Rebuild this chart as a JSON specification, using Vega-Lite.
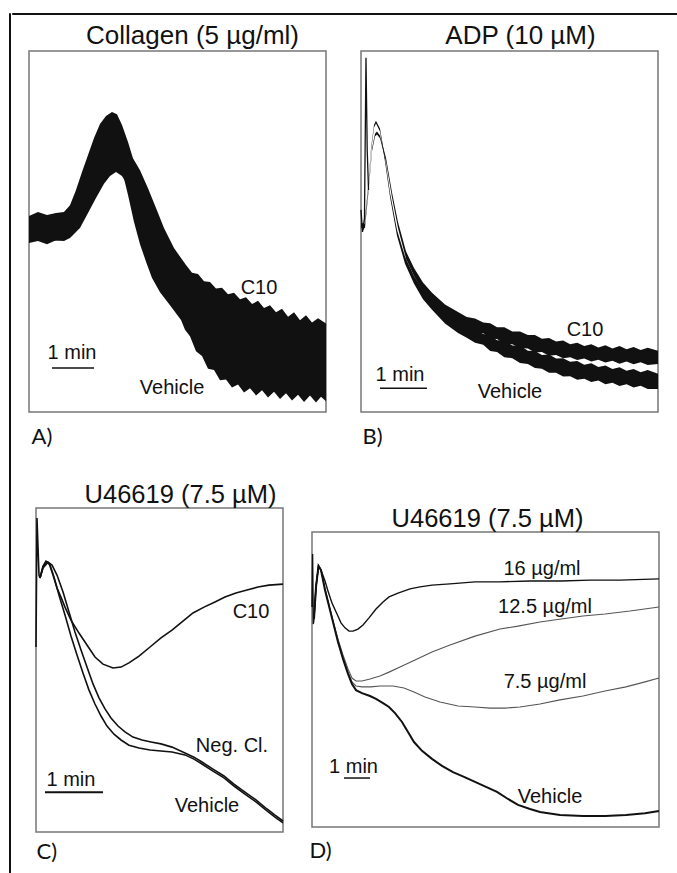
{
  "$schema": "https://vega.github.io/schema/vega-lite/v6.json",
  "padding": {"left": 8, "top": 12, "right": 0, "bottom": 0},
  "background": "white",
  "config": {
    "view": {"stroke": null},
    "title": {"font": "Liberation Sans", "fontSize": 26, "fontWeight": "normal", "color": "#111", "baseline": "alphabetic", "anchor": "middle", "frame": "group"},
    "axis": {"domain": false, "ticks": false, "labels": false, "grid": false, "titleFont": "Lato", "titleFontSize": 22, "titleFontWeight": "normal", "titleColor": "#111", "titleAlign": "left", "titleBaseline": "alphabetic"},
    "text": {"font": "Liberation Sans", "fontSize": 20, "color": "#111", "align": "center", "baseline": "middle"}
  },
  "datasets": {
    "bands": [
      {"p":"A","s":"Vehicle","t":0,"hi":54.3,"lo":46.8},{"p":"A","s":"Vehicle","t":0.214,"hi":55.4,"lo":47.4},{"p":"A","s":"Vehicle","t":0.429,"hi":54.6,"lo":46.5},{"p":"A","s":"Vehicle","t":0.643,"hi":55.1,"lo":47.6},{"p":"A","s":"Vehicle","t":0.833,"hi":55.4,"lo":47.4},{"p":"A","s":"Vehicle","t":0.976,"hi":57.3,"lo":48.2},{"p":"A","s":"Vehicle","t":1.119,"hi":61.5,"lo":49.9},{"p":"A","s":"Vehicle","t":1.262,"hi":66.5,"lo":52.6},{"p":"A","s":"Vehicle","t":1.405,"hi":71.2,"lo":56.5},{"p":"A","s":"Vehicle","t":1.548,"hi":75.9,"lo":60.9},{"p":"A","s":"Vehicle","t":1.69,"hi":79.8,"lo":65.4},{"p":"A","s":"Vehicle","t":1.833,"hi":82.0,"lo":69.8},{"p":"A","s":"Vehicle","t":1.976,"hi":83.1,"lo":72.0},{"p":"A","s":"Vehicle","t":2.095,"hi":82.5,"lo":72.0},{"p":"A","s":"Vehicle","t":2.214,"hi":79.5,"lo":67.0},{"p":"A","s":"Vehicle","t":2.357,"hi":74.8,"lo":60.1},{"p":"A","s":"Vehicle","t":2.5,"hi":69.3,"lo":52.6},{"p":"A","s":"Vehicle","t":2.643,"hi":63.7,"lo":46.5},{"p":"A","s":"Vehicle","t":2.786,"hi":58.2,"lo":41.6},{"p":"A","s":"Vehicle","t":2.929,"hi":52.6,"lo":37.1},{"p":"A","s":"Vehicle","t":3.119,"hi":46.3,"lo":33.2},{"p":"A","s":"Vehicle","t":3.357,"hi":39.9,"lo":29.6},{"p":"A","s":"Vehicle","t":3.619,"hi":34.3,"lo":25.5},{"p":"A","s":"Vehicle","t":3.714,"hi":35.0,"lo":22.8},{"p":"A","s":"Vehicle","t":3.833,"hi":33.1,"lo":21.0},{"p":"A","s":"Vehicle","t":3.976,"hi":31.7,"lo":16.8},{"p":"A","s":"Vehicle","t":4.119,"hi":29.5,"lo":15.5},{"p":"A","s":"Vehicle","t":4.262,"hi":29.0,"lo":12.0},{"p":"A","s":"Vehicle","t":4.405,"hi":26.7,"lo":11.6},{"p":"A","s":"Vehicle","t":4.548,"hi":26.5,"lo":8.8},{"p":"A","s":"Vehicle","t":4.69,"hi":24.5,"lo":9.0},{"p":"A","s":"Vehicle","t":4.833,"hi":24.8,"lo":6.8},{"p":"A","s":"Vehicle","t":4.976,"hi":23.1,"lo":7.6},{"p":"A","s":"Vehicle","t":5.119,"hi":23.7,"lo":5.4},{"p":"A","s":"Vehicle","t":5.262,"hi":22.0,"lo":6.6},{"p":"A","s":"Vehicle","t":5.405,"hi":22.5,"lo":4.6},{"p":"A","s":"Vehicle","t":5.548,"hi":20.9,"lo":6.0},{"p":"A","s":"Vehicle","t":5.69,"hi":21.4,"lo":4.0},{"p":"A","s":"Vehicle","t":5.833,"hi":19.4,"lo":5.6},{"p":"A","s":"Vehicle","t":5.976,"hi":19.6,"lo":3.6},{"p":"A","s":"Vehicle","t":6.119,"hi":18.0,"lo":5.2},{"p":"A","s":"Vehicle","t":6.262,"hi":19.2,"lo":3.2},{"p":"A","s":"Vehicle","t":6.405,"hi":17.6,"lo":4.8},{"p":"A","s":"Vehicle","t":6.548,"hi":19.0,"lo":2.8},{"p":"A","s":"Vehicle","t":6.69,"hi":17.4,"lo":4.6},{"p":"A","s":"Vehicle","t":6.833,"hi":18.8,"lo":2.6},{"p":"A","s":"Vehicle","t":6.952,"hi":17.5,"lo":4.2},{"p":"A","s":"Vehicle","t":7.071,"hi":18.5,"lo":3.0},
      {"p":"A","s":"C10","t":0,"hi":53.5,"lo":47.6},{"p":"A","s":"C10","t":0.452,"hi":54.0,"lo":47.4},{"p":"A","s":"C10","t":0.833,"hi":54.0,"lo":47.6},{"p":"A","s":"C10","t":1.024,"hi":57.1,"lo":48.8},{"p":"A","s":"C10","t":1.214,"hi":61.5,"lo":51.0},{"p":"A","s":"C10","t":1.405,"hi":66.2,"lo":55.1},{"p":"A","s":"C10","t":1.595,"hi":70.1,"lo":59.3},{"p":"A","s":"C10","t":1.786,"hi":72.9,"lo":63.2},{"p":"A","s":"C10","t":1.929,"hi":74.2,"lo":65.4},{"p":"A","s":"C10","t":2.071,"hi":74.8,"lo":66.5},{"p":"A","s":"C10","t":2.214,"hi":73.7,"lo":65.4},{"p":"A","s":"C10","t":2.357,"hi":72.0,"lo":62.6},{"p":"A","s":"C10","t":2.5,"hi":69.8,"lo":58.7},{"p":"A","s":"C10","t":2.643,"hi":67.0,"lo":54.6},{"p":"A","s":"C10","t":2.833,"hi":62.0,"lo":49.0},{"p":"A","s":"C10","t":3.024,"hi":56.5,"lo":44.3},{"p":"A","s":"C10","t":3.214,"hi":51.0,"lo":39.9},{"p":"A","s":"C10","t":3.452,"hi":45.4,"lo":35.2},{"p":"A","s":"C10","t":3.738,"hi":40.7,"lo":31.0},{"p":"A","s":"C10","t":3.881,"hi":38.6,"lo":29.8},{"p":"A","s":"C10","t":4.024,"hi":38.2,"lo":27.6},{"p":"A","s":"C10","t":4.167,"hi":36.2,"lo":27.5},{"p":"A","s":"C10","t":4.31,"hi":36.0,"lo":25.2},{"p":"A","s":"C10","t":4.452,"hi":34.2,"lo":25.1},{"p":"A","s":"C10","t":4.595,"hi":34.4,"lo":23.0},{"p":"A","s":"C10","t":4.738,"hi":32.6,"lo":23.0},{"p":"A","s":"C10","t":4.881,"hi":33.0,"lo":21.0},{"p":"A","s":"C10","t":5.024,"hi":31.2,"lo":21.2},{"p":"A","s":"C10","t":5.167,"hi":31.8,"lo":19.0},{"p":"A","s":"C10","t":5.31,"hi":29.9,"lo":19.5},{"p":"A","s":"C10","t":5.452,"hi":30.8,"lo":17.3},{"p":"A","s":"C10","t":5.595,"hi":28.8,"lo":18.0},{"p":"A","s":"C10","t":5.738,"hi":29.6,"lo":15.8},{"p":"A","s":"C10","t":5.881,"hi":27.6,"lo":16.6},{"p":"A","s":"C10","t":6.024,"hi":28.6,"lo":14.5},{"p":"A","s":"C10","t":6.167,"hi":26.4,"lo":15.3},{"p":"A","s":"C10","t":6.31,"hi":27.6,"lo":13.0},{"p":"A","s":"C10","t":6.452,"hi":25.4,"lo":14.2},{"p":"A","s":"C10","t":6.595,"hi":26.8,"lo":12.0},{"p":"A","s":"C10","t":6.738,"hi":24.8,"lo":13.2},{"p":"A","s":"C10","t":6.881,"hi":26.0,"lo":11.0},{"p":"A","s":"C10","t":7.071,"hi":24.5,"lo":11.6},
      {"p":"B","s":"Vehicle","t":0,"hi":52.4,"lo":51.2},{"p":"B","s":"Vehicle","t":0.064,"hi":51.5,"lo":50.4},{"p":"B","s":"Vehicle","t":0.149,"hi":61.9,"lo":61.1},{"p":"B","s":"Vehicle","t":0.213,"hi":73.0,"lo":72.2},{"p":"B","s":"Vehicle","t":0.277,"hi":79.6,"lo":78.8},{"p":"B","s":"Vehicle","t":0.319,"hi":80.7,"lo":79.9},{"p":"B","s":"Vehicle","t":0.404,"hi":78.5,"lo":77.7},{"p":"B","s":"Vehicle","t":0.511,"hi":70.4,"lo":69.3},{"p":"B","s":"Vehicle","t":0.617,"hi":60.7,"lo":59.6},{"p":"B","s":"Vehicle","t":0.766,"hi":50.4,"lo":48.8},{"p":"B","s":"Vehicle","t":0.936,"hi":43.1,"lo":41.1},{"p":"B","s":"Vehicle","t":1.128,"hi":37.7,"lo":35.5},{"p":"B","s":"Vehicle","t":1.319,"hi":33.7,"lo":31.2},{"p":"B","s":"Vehicle","t":1.511,"hi":31.0,"lo":28.3},{"p":"B","s":"Vehicle","t":1.787,"hi":27.6,"lo":24.5},{"p":"B","s":"Vehicle","t":2.064,"hi":25.2,"lo":21.9},{"p":"B","s":"Vehicle","t":2.25,"hi":23.8,"lo":20.6},{"p":"B","s":"Vehicle","t":2.426,"hi":23.0,"lo":19.2},{"p":"B","s":"Vehicle","t":2.6,"hi":21.6,"lo":18.6},{"p":"B","s":"Vehicle","t":2.75,"hi":21.2,"lo":16.9},{"p":"B","s":"Vehicle","t":2.894,"hi":19.9,"lo":16.6},{"p":"B","s":"Vehicle","t":3.05,"hi":19.8,"lo":15.2},{"p":"B","s":"Vehicle","t":3.22,"hi":18.4,"lo":14.9},{"p":"B","s":"Vehicle","t":3.383,"hi":18.4,"lo":13.6},{"p":"B","s":"Vehicle","t":3.55,"hi":17.0,"lo":13.3},{"p":"B","s":"Vehicle","t":3.7,"hi":16.9,"lo":12.2},{"p":"B","s":"Vehicle","t":3.85,"hi":15.8,"lo":12.0},{"p":"B","s":"Vehicle","t":4.0,"hi":15.9,"lo":10.9},{"p":"B","s":"Vehicle","t":4.15,"hi":14.8,"lo":10.9},{"p":"B","s":"Vehicle","t":4.3,"hi":14.9,"lo":9.8},{"p":"B","s":"Vehicle","t":4.45,"hi":13.9,"lo":9.9},{"p":"B","s":"Vehicle","t":4.6,"hi":14.1,"lo":8.9},{"p":"B","s":"Vehicle","t":4.75,"hi":13.1,"lo":9.2},{"p":"B","s":"Vehicle","t":4.9,"hi":13.5,"lo":8.3},{"p":"B","s":"Vehicle","t":5.05,"hi":12.5,"lo":8.7},{"p":"B","s":"Vehicle","t":5.2,"hi":12.9,"lo":7.7},{"p":"B","s":"Vehicle","t":5.35,"hi":11.9,"lo":8.1},{"p":"B","s":"Vehicle","t":5.5,"hi":12.4,"lo":7.2},{"p":"B","s":"Vehicle","t":5.65,"hi":11.4,"lo":7.7},{"p":"B","s":"Vehicle","t":5.8,"hi":11.9,"lo":6.8},{"p":"B","s":"Vehicle","t":5.95,"hi":11.0,"lo":7.3},{"p":"B","s":"Vehicle","t":6.1,"hi":11.6,"lo":6.4},{"p":"B","s":"Vehicle","t":6.319,"hi":10.6,"lo":6.4},
      {"p":"B","s":"C10","t":0,"hi":52.4,"lo":51.2},{"p":"B","s":"C10","t":0.085,"hi":52.1,"lo":51.0},{"p":"B","s":"C10","t":0.17,"hi":63.3,"lo":62.5},{"p":"B","s":"C10","t":0.234,"hi":73.0,"lo":72.2},{"p":"B","s":"C10","t":0.298,"hi":77.1,"lo":76.3},{"p":"B","s":"C10","t":0.34,"hi":77.7,"lo":76.9},{"p":"B","s":"C10","t":0.404,"hi":76.6,"lo":75.8},{"p":"B","s":"C10","t":0.532,"hi":70.4,"lo":69.3},{"p":"B","s":"C10","t":0.66,"hi":60.8,"lo":59.4},{"p":"B","s":"C10","t":0.787,"hi":52.6,"lo":51.0},{"p":"B","s":"C10","t":0.957,"hi":44.5,"lo":42.5},{"p":"B","s":"C10","t":1.128,"hi":39.9,"lo":37.7},{"p":"B","s":"C10","t":1.319,"hi":35.9,"lo":33.4},{"p":"B","s":"C10","t":1.511,"hi":33.0,"lo":30.2},{"p":"B","s":"C10","t":1.787,"hi":29.8,"lo":26.7},{"p":"B","s":"C10","t":2.064,"hi":27.7,"lo":24.4},{"p":"B","s":"C10","t":2.25,"hi":26.3,"lo":23.6},{"p":"B","s":"C10","t":2.426,"hi":25.9,"lo":22.0},{"p":"B","s":"C10","t":2.6,"hi":24.8,"lo":21.8},{"p":"B","s":"C10","t":2.75,"hi":24.6,"lo":20.3},{"p":"B","s":"C10","t":2.894,"hi":23.5,"lo":20.2},{"p":"B","s":"C10","t":3.05,"hi":23.5,"lo":18.9},{"p":"B","s":"C10","t":3.22,"hi":22.3,"lo":18.8},{"p":"B","s":"C10","t":3.383,"hi":22.3,"lo":17.7},{"p":"B","s":"C10","t":3.55,"hi":21.3,"lo":17.6},{"p":"B","s":"C10","t":3.7,"hi":21.3,"lo":16.5},{"p":"B","s":"C10","t":3.85,"hi":20.3,"lo":16.6},{"p":"B","s":"C10","t":4.0,"hi":20.5,"lo":15.6},{"p":"B","s":"C10","t":4.15,"hi":19.5,"lo":15.8},{"p":"B","s":"C10","t":4.3,"hi":19.8,"lo":14.9},{"p":"B","s":"C10","t":4.45,"hi":18.8,"lo":15.2},{"p":"B","s":"C10","t":4.6,"hi":19.2,"lo":14.4},{"p":"B","s":"C10","t":4.75,"hi":18.3,"lo":14.8},{"p":"B","s":"C10","t":4.9,"hi":18.8,"lo":14.0},{"p":"B","s":"C10","t":5.05,"hi":17.9,"lo":14.5},{"p":"B","s":"C10","t":5.2,"hi":18.5,"lo":13.7},{"p":"B","s":"C10","t":5.35,"hi":17.6,"lo":14.2},{"p":"B","s":"C10","t":5.5,"hi":18.3,"lo":13.4},{"p":"B","s":"C10","t":5.65,"hi":17.4,"lo":14.0},{"p":"B","s":"C10","t":5.8,"hi":18.0,"lo":13.2},{"p":"B","s":"C10","t":5.95,"hi":17.2,"lo":13.8},{"p":"B","s":"C10","t":6.1,"hi":17.8,"lo":13.0},{"p":"B","s":"C10","t":6.319,"hi":17.0,"lo":13.3}
    ],
    "lines": [
      {"p":"B","s":"spike","t":0,"y":56.0},{"p":"B","s":"spike","t":0.032,"y":49.9},{"p":"B","s":"spike","t":0.074,"y":53.7},{"p":"B","s":"spike","t":0.106,"y":98.1},{"p":"B","s":"spike","t":0.132,"y":72.6},{"p":"B","s":"spike","t":0.16,"y":61.5},
      {"p":"C","s":"spike","t":0,"y":57.1},{"p":"C","s":"spike","t":0.017,"y":96.9},{"p":"C","s":"spike","t":0.052,"y":79.3},{"p":"C","s":"spike","t":0.069,"y":78.4},
      {"p":"C","s":"C10","t":0.069,"y":78.4},{"p":"C","s":"C10","t":0.121,"y":82.1},{"p":"C","s":"C10","t":0.172,"y":83.6},{"p":"C","s":"C10","t":0.224,"y":83.0},{"p":"C","s":"C10","t":0.293,"y":79.3},{"p":"C","s":"C10","t":0.362,"y":75.3},{"p":"C","s":"C10","t":0.431,"y":72.5},{"p":"C","s":"C10","t":0.5,"y":69.4},{"p":"C","s":"C10","t":0.603,"y":65.4},{"p":"C","s":"C10","t":0.741,"y":61.4},{"p":"C","s":"C10","t":0.879,"y":57.7},{"p":"C","s":"C10","t":1.017,"y":54.0},{"p":"C","s":"C10","t":1.155,"y":51.8},{"p":"C","s":"C10","t":1.328,"y":50.6},{"p":"C","s":"C10","t":1.466,"y":50.9},{"p":"C","s":"C10","t":1.603,"y":52.2},{"p":"C","s":"C10","t":1.776,"y":54.3},{"p":"C","s":"C10","t":1.966,"y":57.1},{"p":"C","s":"C10","t":2.155,"y":59.9},{"p":"C","s":"C10","t":2.345,"y":62.3},{"p":"C","s":"C10","t":2.534,"y":65.1},{"p":"C","s":"C10","t":2.707,"y":67.6},{"p":"C","s":"C10","t":2.897,"y":69.4},{"p":"C","s":"C10","t":3.086,"y":71.0},{"p":"C","s":"C10","t":3.259,"y":72.5},{"p":"C","s":"C10","t":3.448,"y":73.8},{"p":"C","s":"C10","t":3.638,"y":74.7},{"p":"C","s":"C10","t":3.828,"y":75.6},{"p":"C","s":"C10","t":4.017,"y":76.2},{"p":"C","s":"C10","t":4.259,"y":76.5},
      {"p":"C","s":"Vehicle","t":0.069,"y":78.4},{"p":"C","s":"Vehicle","t":0.121,"y":81.8},{"p":"C","s":"Vehicle","t":0.19,"y":83.3},{"p":"C","s":"Vehicle","t":0.241,"y":82.4},{"p":"C","s":"Vehicle","t":0.31,"y":78.7},{"p":"C","s":"Vehicle","t":0.397,"y":73.1},{"p":"C","s":"Vehicle","t":0.5,"y":67.0},{"p":"C","s":"Vehicle","t":0.603,"y":60.5},{"p":"C","s":"Vehicle","t":0.707,"y":54.6},{"p":"C","s":"Vehicle","t":0.81,"y":49.1},{"p":"C","s":"Vehicle","t":0.914,"y":43.8},{"p":"C","s":"Vehicle","t":1.017,"y":39.5},{"p":"C","s":"Vehicle","t":1.121,"y":35.8},{"p":"C","s":"Vehicle","t":1.224,"y":32.7},{"p":"C","s":"Vehicle","t":1.345,"y":30.2},{"p":"C","s":"Vehicle","t":1.466,"y":28.4},{"p":"C","s":"Vehicle","t":1.603,"y":26.8},{"p":"C","s":"Vehicle","t":1.776,"y":25.9},{"p":"C","s":"Vehicle","t":1.966,"y":25.3},{"p":"C","s":"Vehicle","t":2.155,"y":25.0},{"p":"C","s":"Vehicle","t":2.345,"y":24.7},{"p":"C","s":"Vehicle","t":2.569,"y":23.8},{"p":"C","s":"Vehicle","t":2.724,"y":22.5},{"p":"C","s":"Vehicle","t":2.862,"y":21.0},{"p":"C","s":"Vehicle","t":3.052,"y":18.8},{"p":"C","s":"Vehicle","t":3.241,"y":16.7},{"p":"C","s":"Vehicle","t":3.414,"y":14.2},{"p":"C","s":"Vehicle","t":3.603,"y":11.7},{"p":"C","s":"Vehicle","t":3.793,"y":9.3},{"p":"C","s":"Vehicle","t":3.983,"y":6.5},{"p":"C","s":"Vehicle","t":4.121,"y":4.6},{"p":"C","s":"Vehicle","t":4.259,"y":2.8},
      {"p":"C","s":"Neg","t":0.069,"y":78.4},{"p":"C","s":"Neg","t":0.121,"y":81.5},{"p":"C","s":"Neg","t":0.207,"y":83.3},{"p":"C","s":"Neg","t":0.276,"y":82.4},{"p":"C","s":"Neg","t":0.362,"y":79.3},{"p":"C","s":"Neg","t":0.466,"y":74.1},{"p":"C","s":"Neg","t":0.569,"y":67.9},{"p":"C","s":"Neg","t":0.672,"y":61.7},{"p":"C","s":"Neg","t":0.776,"y":56.2},{"p":"C","s":"Neg","t":0.879,"y":50.9},{"p":"C","s":"Neg","t":0.983,"y":45.7},{"p":"C","s":"Neg","t":1.086,"y":41.4},{"p":"C","s":"Neg","t":1.19,"y":38.0},{"p":"C","s":"Neg","t":1.293,"y":35.2},{"p":"C","s":"Neg","t":1.414,"y":32.7},{"p":"C","s":"Neg","t":1.534,"y":30.9},{"p":"C","s":"Neg","t":1.672,"y":29.3},{"p":"C","s":"Neg","t":1.828,"y":28.4},{"p":"C","s":"Neg","t":1.983,"y":27.8},{"p":"C","s":"Neg","t":2.155,"y":27.2},{"p":"C","s":"Neg","t":2.345,"y":26.2},{"p":"C","s":"Neg","t":2.569,"y":24.4},{"p":"C","s":"Neg","t":2.724,"y":23.1},{"p":"C","s":"Neg","t":2.862,"y":21.6},{"p":"C","s":"Neg","t":3.052,"y":19.4},{"p":"C","s":"Neg","t":3.241,"y":17.3},{"p":"C","s":"Neg","t":3.414,"y":14.8},{"p":"C","s":"Neg","t":3.603,"y":12.3},{"p":"C","s":"Neg","t":3.793,"y":9.9},{"p":"C","s":"Neg","t":3.983,"y":7.1},{"p":"C","s":"Neg","t":4.121,"y":5.2},{"p":"C","s":"Neg","t":4.259,"y":3.4},
      {"p":"D","s":"spike","t":0,"y":74.6},{"p":"D","s":"spike","t":0.023,"y":92.5},{"p":"D","s":"spike","t":0.05,"y":68.8},{"p":"D","s":"spike","t":0.077,"y":70.5},
      {"p":"D","s":"16","t":0.077,"y":70.5},{"p":"D","s":"16","t":0.154,"y":81.4},{"p":"D","s":"16","t":0.25,"y":88.5},{"p":"D","s":"16","t":0.346,"y":87.1},{"p":"D","s":"16","t":0.5,"y":83.4},{"p":"D","s":"16","t":0.615,"y":80.0},{"p":"D","s":"16","t":0.769,"y":75.9},{"p":"D","s":"16","t":0.962,"y":72.2},{"p":"D","s":"16","t":1.115,"y":69.2},{"p":"D","s":"16","t":1.269,"y":67.5},{"p":"D","s":"16","t":1.423,"y":66.4},{"p":"D","s":"16","t":1.577,"y":66.4},{"p":"D","s":"16","t":1.769,"y":67.1},{"p":"D","s":"16","t":1.962,"y":68.5},{"p":"D","s":"16","t":2.192,"y":70.9},{"p":"D","s":"16","t":2.462,"y":73.9},{"p":"D","s":"16","t":2.731,"y":76.3},{"p":"D","s":"16","t":2.962,"y":78.0},{"p":"D","s":"16","t":3.308,"y":79.3},{"p":"D","s":"16","t":3.769,"y":80.7},{"p":"D","s":"16","t":4.154,"y":81.4},{"p":"D","s":"16","t":4.615,"y":82.0},{"p":"D","s":"16","t":5.308,"y":82.4},{"p":"D","s":"16","t":6.269,"y":83.1},{"p":"D","s":"16","t":7.231,"y":83.1},{"p":"D","s":"16","t":8.385,"y":83.4},{"p":"D","s":"16","t":9.577,"y":83.4},{"p":"D","s":"16","t":10.692,"y":83.7},{"p":"D","s":"16","t":11.846,"y":83.7},{"p":"D","s":"16","t":13.346,"y":84.1},
      {"p":"D","s":"12.5","t":0.077,"y":70.5},{"p":"D","s":"12.5","t":0.154,"y":81.4},{"p":"D","s":"12.5","t":0.25,"y":88.5},{"p":"D","s":"12.5","t":0.346,"y":87.1},{"p":"D","s":"12.5","t":0.5,"y":80.7},{"p":"D","s":"12.5","t":0.615,"y":76.6},{"p":"D","s":"12.5","t":0.808,"y":69.8},{"p":"D","s":"12.5","t":1.0,"y":63.7},{"p":"D","s":"12.5","t":1.192,"y":58.3},{"p":"D","s":"12.5","t":1.385,"y":53.6},{"p":"D","s":"12.5","t":1.538,"y":50.5},{"p":"D","s":"12.5","t":1.692,"y":49.5},{"p":"D","s":"12.5","t":1.923,"y":49.5},{"p":"D","s":"12.5","t":2.231,"y":50.2},{"p":"D","s":"12.5","t":2.615,"y":51.2},{"p":"D","s":"12.5","t":2.962,"y":52.5},{"p":"D","s":"12.5","t":3.385,"y":54.2},{"p":"D","s":"12.5","t":3.962,"y":56.6},{"p":"D","s":"12.5","t":4.615,"y":59.3},{"p":"D","s":"12.5","t":5.308,"y":61.7},{"p":"D","s":"12.5","t":6.269,"y":64.7},{"p":"D","s":"12.5","t":7.231,"y":67.1},{"p":"D","s":"12.5","t":7.923,"y":68.1},{"p":"D","s":"12.5","t":8.769,"y":69.5},{"p":"D","s":"12.5","t":9.577,"y":70.5},{"p":"D","s":"12.5","t":10.423,"y":71.5},{"p":"D","s":"12.5","t":11.269,"y":72.2},{"p":"D","s":"12.5","t":12.231,"y":73.2},{"p":"D","s":"12.5","t":13.346,"y":74.6},
      {"p":"D","s":"7.5","t":0.077,"y":70.5},{"p":"D","s":"7.5","t":0.154,"y":81.4},{"p":"D","s":"7.5","t":0.25,"y":88.5},{"p":"D","s":"7.5","t":0.346,"y":87.1},{"p":"D","s":"7.5","t":0.5,"y":80.7},{"p":"D","s":"7.5","t":0.615,"y":76.6},{"p":"D","s":"7.5","t":0.808,"y":69.8},{"p":"D","s":"7.5","t":1.0,"y":63.1},{"p":"D","s":"7.5","t":1.192,"y":57.6},{"p":"D","s":"7.5","t":1.385,"y":52.5},{"p":"D","s":"7.5","t":1.538,"y":49.2},{"p":"D","s":"7.5","t":1.692,"y":47.8},{"p":"D","s":"7.5","t":1.923,"y":47.5},{"p":"D","s":"7.5","t":2.269,"y":47.5},{"p":"D","s":"7.5","t":2.615,"y":47.8},{"p":"D","s":"7.5","t":3.115,"y":47.8},{"p":"D","s":"7.5","t":3.538,"y":47.1},{"p":"D","s":"7.5","t":3.923,"y":45.8},{"p":"D","s":"7.5","t":4.346,"y":44.1},{"p":"D","s":"7.5","t":4.923,"y":42.4},{"p":"D","s":"7.5","t":5.615,"y":41.0},{"p":"D","s":"7.5","t":6.269,"y":40.7},{"p":"D","s":"7.5","t":6.846,"y":40.3},{"p":"D","s":"7.5","t":7.423,"y":40.3},{"p":"D","s":"7.5","t":8.0,"y":40.7},{"p":"D","s":"7.5","t":8.769,"y":41.7},{"p":"D","s":"7.5","t":9.538,"y":43.1},{"p":"D","s":"7.5","t":10.423,"y":44.4},{"p":"D","s":"7.5","t":11.269,"y":46.1},{"p":"D","s":"7.5","t":12.077,"y":47.5},{"p":"D","s":"7.5","t":12.808,"y":49.2},{"p":"D","s":"7.5","t":13.346,"y":50.5},
      {"p":"D","s":"Vehicle","t":0.077,"y":70.5},{"p":"D","s":"Vehicle","t":0.154,"y":81.4},{"p":"D","s":"Vehicle","t":0.25,"y":88.5},{"p":"D","s":"Vehicle","t":0.346,"y":87.1},{"p":"D","s":"Vehicle","t":0.5,"y":80.3},{"p":"D","s":"Vehicle","t":0.615,"y":76.3},{"p":"D","s":"Vehicle","t":0.808,"y":69.5},{"p":"D","s":"Vehicle","t":1.0,"y":62.7},{"p":"D","s":"Vehicle","t":1.192,"y":57.0},{"p":"D","s":"Vehicle","t":1.385,"y":51.9},{"p":"D","s":"Vehicle","t":1.538,"y":48.5},{"p":"D","s":"Vehicle","t":1.692,"y":46.4},{"p":"D","s":"Vehicle","t":1.923,"y":45.4},{"p":"D","s":"Vehicle","t":2.231,"y":44.4},{"p":"D","s":"Vehicle","t":2.462,"y":43.4},{"p":"D","s":"Vehicle","t":2.731,"y":42.0},{"p":"D","s":"Vehicle","t":2.962,"y":40.7},{"p":"D","s":"Vehicle","t":3.192,"y":38.6},{"p":"D","s":"Vehicle","t":3.462,"y":35.6},{"p":"D","s":"Vehicle","t":3.692,"y":32.2},{"p":"D","s":"Vehicle","t":3.923,"y":28.8},{"p":"D","s":"Vehicle","t":4.231,"y":25.8},{"p":"D","s":"Vehicle","t":4.615,"y":23.1},{"p":"D","s":"Vehicle","t":5.0,"y":20.7},{"p":"D","s":"Vehicle","t":5.423,"y":18.6},{"p":"D","s":"Vehicle","t":5.846,"y":17.0},{"p":"D","s":"Vehicle","t":6.269,"y":15.3},{"p":"D","s":"Vehicle","t":6.692,"y":13.6},{"p":"D","s":"Vehicle","t":7.115,"y":11.9},{"p":"D","s":"Vehicle","t":7.538,"y":9.5},{"p":"D","s":"Vehicle","t":7.923,"y":7.5},{"p":"D","s":"Vehicle","t":8.385,"y":6.1},{"p":"D","s":"Vehicle","t":8.769,"y":5.1},{"p":"D","s":"Vehicle","t":9.538,"y":4.1},{"p":"D","s":"Vehicle","t":10.423,"y":3.7},{"p":"D","s":"Vehicle","t":11.269,"y":3.7},{"p":"D","s":"Vehicle","t":12.077,"y":4.1},{"p":"D","s":"Vehicle","t":12.808,"y":4.7},{"p":"D","s":"Vehicle","t":13.346,"y":5.4}
    ],
    "labels": [
      {"p":"A","text":"C10","t":5.476,"y":34.3},{"p":"A","text":"Vehicle","t":3.405,"y":6.6},{"p":"A","text":"1 min","t":1.024,"y":16.3},
      {"p":"B","text":"C10","t":4.766,"y":22.7},{"p":"B","text":"Vehicle","t":3.17,"y":5.5},{"p":"B","text":"1 min","t":0.83,"y":10.2},
      {"p":"C","text":"C10","t":3.707,"y":67.9},{"p":"C","text":"Neg. Cl.","t":3.379,"y":26.5},{"p":"C","text":"Vehicle","t":2.948,"y":8.0},{"p":"C","text":"1 min","t":0.603,"y":16.0},
      {"p":"D","text":"16 µg/ml","t":8.846,"y":87.5},{"p":"D","text":"12.5 µg/ml","t":8.962,"y":74.6},{"p":"D","text":"7.5 µg/ml","t":8.962,"y":49.2},{"p":"D","text":"Vehicle","t":9.154,"y":10.2},{"p":"D","text":"1 min","t":1.596,"y":20.3}
    ],
    "bars": [
      {"p":"A","t":0.548,"t2":1.548,"y":12.2},
      {"p":"B","t":0.404,"t2":1.404,"y":6.6},
      {"p":"C","t":0.155,"t2":1.155,"y":12.3},
      {"p":"D","t":1.231,"t2":2.231,"y":16.6}
    ]
  },
  "spacing": 0,
  "align": "none",
  "hconcat": [
    {"width": 1, "height": 861, "data": {"values": []}, "mark": "point", "view": {"stroke": "#111", "strokeWidth": 1}},
    {
      "spacing": 7,
      "align": "none",
      "vconcat": [
        {"width": 668, "height": 1, "data": {"values": []}, "mark": "point", "view": {"stroke": "#111", "strokeWidth": 1}},
        {
          "spacing": 15,
          "align": "none",
          "hconcat": [
            {"width": 1, "height": 1, "data": {"values": []}, "mark": "point", "view": {"stroke": null, "fill": "transparent"}},
            {
              "spacing": 33,
              "align": "none",
              "vconcat": [
                {
                  "spacing": 30,
                  "align": "none",
                  "hconcat": [
                    {
                      "width": 297, "height": 361,
                      "view": {"stroke": "#777", "strokeWidth": 1.5},
                      "title": {"text": "Collagen (5 µg/ml)", "offset": 2, "dx": 15},
                      "encoding": {"x": {"field": "t", "type": "quantitative", "scale": {"domain": [0, 7.071], "nice": false, "zero": false}, "axis": {"title": "A)", "titleX": 2, "titleY": 31}}},
                      "layer": [
                        {"data": {"name": "bands"}, "transform": [{"filter": "datum.p == 'A'"}],
                         "mark": {"type": "area", "color": "#111"},
                         "encoding": {
                           "y": {"field": "hi", "type": "quantitative", "scale": {"domain": [0, 100], "nice": false}, "axis": null},
                           "y2": {"field": "lo"},
                           "detail": {"field": "s"}}},
                        {"data": {"name": "bars"}, "transform": [{"filter": "datum.p == 'A'"}],
                         "mark": {"type": "rule", "color": "#111", "strokeWidth": 1.5},
                         "encoding": {"x2": {"field": "t2"}, "y": {"field": "y", "type": "quantitative", "axis": null}}},
                        {"data": {"name": "labels"}, "transform": [{"filter": "datum.p == 'A'"}],
                         "mark": {"type": "text"},
                         "encoding": {"y": {"field": "y", "type": "quantitative", "axis": null}, "text": {"field": "text"}}}
                      ]
                    },
                    {
                      "width": 297, "height": 361,
                      "view": {"stroke": "#777", "strokeWidth": 1.5},
                      "title": {"text": "ADP (10 µM)", "offset": 2, "dx": 11},
                      "encoding": {"x": {"field": "t", "type": "quantitative", "scale": {"domain": [0, 6.319], "nice": false, "zero": false}, "axis": {"title": "B)", "titleX": 1, "titleY": 31}}},
                      "layer": [
                        {"data": {"name": "bands"}, "transform": [{"filter": "datum.p == 'B'"}],
                         "mark": {"type": "area", "color": "#111"},
                         "encoding": {
                           "y": {"field": "hi", "type": "quantitative", "scale": {"domain": [0, 100], "nice": false}, "axis": null},
                           "y2": {"field": "lo"},
                           "detail": {"field": "s"}}},
                        {"data": {"name": "lines"}, "transform": [{"filter": "datum.p == 'B'"}],
                         "mark": {"type": "line", "color": "#111", "strokeWidth": 1.3},
                         "encoding": {"y": {"field": "y", "type": "quantitative", "axis": null}, "detail": {"field": "s"}}},
                        {"data": {"name": "bars"}, "transform": [{"filter": "datum.p == 'B'"}],
                         "mark": {"type": "rule", "color": "#111", "strokeWidth": 1.5},
                         "encoding": {"x2": {"field": "t2"}, "y": {"field": "y", "type": "quantitative", "axis": null}}},
                        {"data": {"name": "labels"}, "transform": [{"filter": "datum.p == 'B'"}],
                         "mark": {"type": "text"},
                         "encoding": {"y": {"field": "y", "type": "quantitative", "axis": null}, "text": {"field": "text"}}}
                      ]
                    }
                  ]
                },
                {
                  "spacing": 2,
                  "align": "none",
                  "hconcat": [
                    {"width": 1, "height": 1, "data": {"values": []}, "mark": "point", "view": {"stroke": null, "fill": "transparent"}},
                    {
                      "spacing": 21,
                      "align": "none",
                      "hconcat": [
                        {
                          "width": 247, "height": 324,
                          "view": {"stroke": "#777", "strokeWidth": 1.5},
                          "title": {"text": "U46619 (7.5 µM)", "offset": 0, "dx": 21, "fontSize": 25.5},
                          "encoding": {"x": {"field": "t", "type": "quantitative", "scale": {"domain": [0, 4.259], "nice": false, "zero": false}, "axis": {"title": "C)", "titleX": 0, "titleY": 26}}},
                          "layer": [
                            {"data": {"name": "lines"}, "transform": [{"filter": "datum.p == 'C'"}],
                             "mark": {"type": "line", "color": "#111", "strokeWidth": 1.6},
                             "encoding": {
                               "y": {"field": "y", "type": "quantitative", "scale": {"domain": [0, 100], "nice": false}, "axis": null},
                               "detail": {"field": "s"}}},
                            {"data": {"name": "bars"}, "transform": [{"filter": "datum.p == 'C'"}],
                             "mark": {"type": "rule", "color": "#111", "strokeWidth": 2},
                             "encoding": {"x2": {"field": "t2"}, "y": {"field": "y", "type": "quantitative", "axis": null}}},
                            {"data": {"name": "labels"}, "transform": [{"filter": "datum.p == 'C'"}],
                             "mark": {"type": "text"},
                             "encoding": {"y": {"field": "y", "type": "quantitative", "axis": null}, "text": {"field": "text"}}}
                          ]
                        },
                        {
                          "spacing": -4,
                          "align": "none",
                          "vconcat": [
                            {"width": 1, "height": 1, "data": {"values": []}, "mark": "point", "view": {"stroke": null, "fill": "transparent"}},
                            {
                              "width": 347, "height": 295,
                              "view": {"stroke": "#777", "strokeWidth": 1.5},
                              "title": {"text": "U46619 (7.5 µM)", "offset": 0, "dx": 2, "fontSize": 25.5},
                              "encoding": {"x": {"field": "t", "type": "quantitative", "scale": {"domain": [0, 13.346], "nice": false, "zero": false}, "axis": {"title": "D)", "titleX": -3, "titleY": 30}}},
                              "layer": [
                                {"data": {"name": "lines"}, "transform": [{"filter": "datum.p == 'D' && (datum.s == '12.5' || datum.s == '7.5')"}],
                                 "mark": {"type": "line", "color": "#555", "strokeWidth": 1.1},
                                 "encoding": {
                                   "y": {"field": "y", "type": "quantitative", "scale": {"domain": [0, 100], "nice": false}, "axis": null},
                                   "detail": {"field": "s"}}},
                                {"data": {"name": "lines"}, "transform": [{"filter": "datum.p == 'D' && (datum.s == '16' || datum.s == 'spike')"}],
                                 "mark": {"type": "line", "color": "#111", "strokeWidth": 1.4},
                                 "encoding": {"y": {"field": "y", "type": "quantitative", "axis": null}, "detail": {"field": "s"}}},
                                {"data": {"name": "lines"}, "transform": [{"filter": "datum.p == 'D' && datum.s == 'Vehicle'"}],
                                 "mark": {"type": "line", "color": "#111", "strokeWidth": 2},
                                 "encoding": {"y": {"field": "y", "type": "quantitative", "axis": null}}},
                                {"data": {"name": "bars"}, "transform": [{"filter": "datum.p == 'D'"}],
                                 "mark": {"type": "rule", "color": "#111", "strokeWidth": 1.5},
                                 "encoding": {"x2": {"field": "t2"}, "y": {"field": "y", "type": "quantitative", "axis": null}}},
                                {"data": {"name": "labels"}, "transform": [{"filter": "datum.p == 'D'"}],
                                 "mark": {"type": "text"},
                                 "encoding": {"y": {"field": "y", "type": "quantitative", "axis": null}, "text": {"field": "text"}}}
                              ]
                            }
                          ]
                        }
                      ]
                    }
                  ]
                }
              ]
            }
          ]
        }
      ]
    }
  ]
}
